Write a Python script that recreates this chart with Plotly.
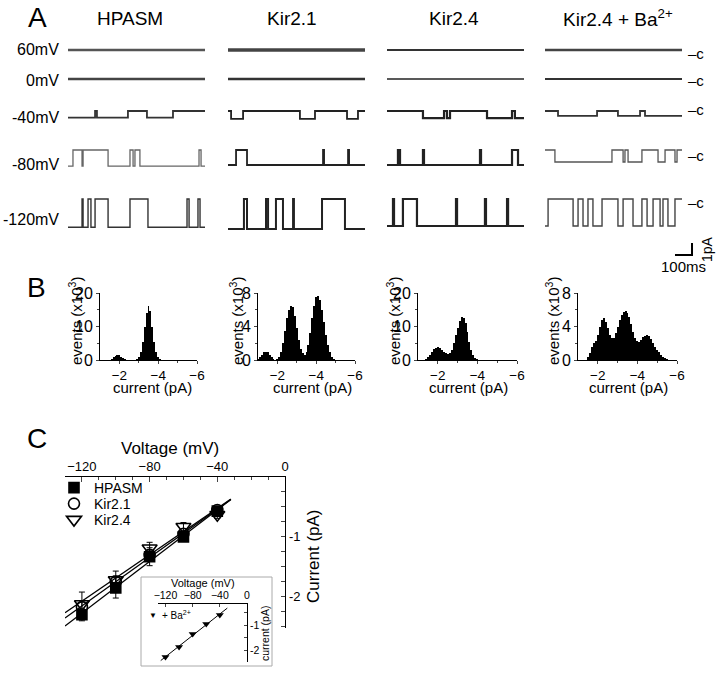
import numpy as np
import plotly.graph_objects as go

W, H = 721, 674
FONT = "Liberation Sans, Arial, sans-serif"

# ======================= DATA =======================
# ---- Panel A: single-channel recordings (idealised dwell transitions, ms) ----
COLUMNS = ["HPASM", "Kir2.1", "Kir2.4", "Kir2.4 + Ba<sup>2+</sup>"]
ROW_LABELS = ["60mV", "0mV", "-40mV", "-80mV", "-120mV"]
TRACE_MS = 800

# state alternates at each listed time; first-state 1 = open, 0 = closed
HPASM_60, HPASM_0 = [], []
HPASM_40 = [158, 169, 350, 461, 613]
HPASM_80 = [29, 82, 88, 234, 362, 380, 391, 420, 765, 777]
HPASM_120 = [82, 88, 117, 134, 158, 234, 362, 467, 695, 707, 759, 771]
KIR21_60, KIR21_0 = [], []
KIR21_40 = [18, 88, 420, 508, 695, 759]
KIR21_80 = [47, 111, 555, 561, 701, 707]
KIR21_120 = [93, 111, 222, 234, 280, 321, 380, 385, 549, 683]
KIR24_60, KIR24_0 = [], []
KIR24_40 = [210, 333, 350, 368, 584, 730, 747]
KIR24_80 = [64, 76, 210, 216, 543, 549, 730, 765]
KIR24_120 = [35, 41, 93, 175, 403, 409, 572, 578, 701, 707]
BA_60, BA_0 = [], []
BA_40 = [76, 304, 426, 555, 584]
BA_80 = [58, 391, 456, 467, 485, 566, 660, 701, 759, 771]
BA_120 = [18, 164, 193, 222, 251, 280, 333, 426, 456, 514, 566, 596, 631, 672, 689, 718, 759]

FIRST_OPEN_HPASM = [0, 0, 1, 1, 1]
FIRST_OPEN_KIR21 = [0, 0, 0, 1, 1]
FIRST_OPEN_KIR24 = [0, 0, 0, 1, 1]
FIRST_OPEN_BA = [0, 0, 0, 0, 1]

# unitary amplitudes (pA) per row
AMP_HPASM = [0, 0, 0.55, 1.35, 2.35]
AMP_KIR21 = [0, 0, 0.65, 1.25, 2.5]
AMP_KIR24 = [0, 0, 0.6, 1.25, 2.25]
AMP_BA = [0, 0, 0.4, 1.0, 2.25]

# ---- Panel B: amplitude histograms (events x10^3), bins -1.0 ... -5.5 pA ----
HIST_BINS = [round(-1.0 - 0.1 * i, 1) for i in range(46)]
HIST_HPASM = [0, 0, 0, 0, 0, 0.1, 0.4, 0.9, 1.3, 1.6, 1.4, 1.0, 0.5, 0.2, 0.05, 0, 0, 0,
              0.05, 0.2, 0.8, 2.5, 5.5, 10, 14, 16, 14.5, 10, 5.5, 2.5, 0.8, 0.2, 0.05,
              0, 0, 0, 0, 0, 0, 0, 0, 0, 0, 0, 0, 0]
HIST_KIR21 = [0.1, 0.3, 0.6, 0.9, 1.0, 0.9, 0.6, 0.3, 0.1, 0.05, 0.1, 0.3, 0.9, 2.0, 3.5,
              5.0, 6.0, 6.5, 6.3, 5.2, 3.8, 2.4, 1.3, 0.8, 0.6, 0.9, 1.8, 3.2, 5.0, 6.5,
              7.5, 7.7, 7.2, 6.0, 4.5, 3.0, 1.8, 0.9, 0.4, 0.1, 0, 0, 0, 0, 0, 0]
HIST_KIR24 = [0, 0, 0, 0, 0.2, 0.8, 1.6, 2.4, 3.2, 3.7, 3.8, 3.6, 3.1, 2.5, 2.0, 1.8, 2.0,
              3.0, 5.0, 7.5, 9.5, 11.5, 12.7, 12.5, 11.0, 8.5, 5.5, 3.0, 1.4, 0.6, 0.2,
              0, 0, 0, 0, 0, 0, 0, 0, 0, 0, 0, 0, 0, 0, 0]
HIST_BA = [0, 0, 0, 0, 0, 0.3, 0.8, 1.5, 2.0, 2.3, 3.0, 4.0, 4.8, 5.0, 4.5, 3.8, 3.0, 2.6,
           2.6, 3.2, 4.0, 4.8, 5.4, 5.7, 5.8, 5.6, 5.1, 4.3, 3.4, 2.6, 2.3, 2.2, 2.4, 2.7,
           2.9, 3.0, 2.9, 2.5, 2.0, 1.6, 1.2, 0.9, 0.6, 0.4, 0.2, 0.1]
HIST_YMAX = [20, 8, 20, 8]

# ---- Panel C: single-channel I-V ----
VOLTAGE = [-120, -100, -80, -60, -40]
I_HPASM = [-2.30, -1.85, -1.33, -1.00, -0.57]
E_HPASM = [0.10, 0.17, 0.15, 0.05, 0.04]
I_KIR21 = [-2.17, -1.75, -1.30, -0.95, -0.55]
E_KIR21 = [0.08, 0.10, 0.08, 0.05, 0.04]
I_KIR24 = [-2.12, -1.72, -1.19, -0.83, -0.63]
E_KIR24 = [0.20, 0.15, 0.10, 0.07, 0.06]
I_BA = [-2.28, -1.88, -1.36, -0.96, -0.60]

# ======================= LAYOUT HELPERS (window pixels -> paper) =======================
def dx(a, b):
    return [a / W, b / W]


def dy(top, bottom):
    return [1 - bottom / H, 1 - top / H]


def px(x):
    return x / W


def py(y):
    return 1 - y / H


fig = go.Figure()
layout = dict(
    template="none",
    width=W, height=H, margin=dict(l=0, r=0, t=0, b=0, pad=0, autoexpand=False),
    paper_bgcolor="white", plot_bgcolor="white",
    font=dict(family=FONT, color="black"),
    showlegend=True,
)
annotations = []


def ann(text, x, y, size, xanchor="center", angle=0, **kw):
    annotations.append(dict(text=text, x=px(x), y=py(y), xref="paper", yref="paper",
                            showarrow=False, xanchor=xanchor, yanchor="middle",
                            textangle=angle, font=dict(size=size, family=FONT, color="black"), **kw))


# ======================= PANEL A =======================
COL_X = [(68, 205), (228, 365), (387, 524), (545, 682)]
A_TOP, A_BOT, PX_PER_PA = 40, 240, 12.0
ROW_BASE_PX = [50, 79, 111, 150, 199]
ROW_BASE = [-(p - A_TOP) / PX_PER_PA for p in ROW_BASE_PX]
TRACES = [
    [HPASM_60, HPASM_0, HPASM_40, HPASM_80, HPASM_120],
    [KIR21_60, KIR21_0, KIR21_40, KIR21_80, KIR21_120],
    [KIR24_60, KIR24_0, KIR24_40, KIR24_80, KIR24_120],
    [BA_60, BA_0, BA_40, BA_80, BA_120],
]
FIRST = [FIRST_OPEN_HPASM, FIRST_OPEN_KIR21, FIRST_OPEN_KIR24, FIRST_OPEN_BA]
AMPS = [AMP_HPASM, AMP_KIR21, AMP_KIR24, AMP_BA]
LINE_W = [[2.6, 2.6, 1.8, 1.3, 1.4],
          [3.6, 2.4, 1.8, 1.8, 2.0],
          [2.0, 1.3, 2.2, 2.2, 2.2],
          [2.6, 2.0, 1.8, 1.3, 1.4]]
LINE_C = [["#555", "#444", "#333", "#666", "#333"],
          ["#444", "#333", "#222", "#222", "#222"],
          ["#333", "#222", "#222", "#222", "#222"],
          ["#444", "#333", "#333", "#555", "#444"]]

for c in range(4):
    ax = "" if c == 0 else str(c + 1)
    for r in range(5):
        t = TRACES[c][r]
        state = FIRST[c][r]
        xs, ys = [0], []
        for tt in t:
            ys.append(ROW_BASE[r] - AMPS[c][r] * state)
            xs.append(tt)
            state = 1 - state
        ys.append(ROW_BASE[r] - AMPS[c][r] * state)
        xs.append(TRACE_MS)
        ys.append(ys[-1])
        fig.add_trace(go.Scatter(x=xs, y=ys, mode="lines", line_shape="hv",
                                 line=dict(color=LINE_C[c][r], width=LINE_W[c][r]),
                                 xaxis="x" + ax, yaxis="y" + ax, showlegend=False,
                                 hoverinfo="skip"))
    layout["xaxis" + ax] = dict(domain=dx(*COL_X[c]), range=[0, TRACE_MS], visible=False,
                                anchor="y" + ax)
    layout["yaxis" + ax] = dict(domain=dy(A_TOP, A_BOT),
                                range=[-(A_BOT - A_TOP) / PX_PER_PA, 0], visible=False,
                                anchor="x" + ax)

# scale bar (100 ms, 1 pA) on its own axes
ms_per_px = TRACE_MS / (COL_X[3][1] - COL_X[3][0])
sb_x0, sb_x1, sb_y0, sb_y1 = 673, 694, 241, 257
fig.add_trace(go.Scatter(x=[0, 100, 100], y=[-1, -1, 0], mode="lines",
                         line=dict(color="black", width=2), xaxis="x11", yaxis="y11",
                         showlegend=False, hoverinfo="skip"))
layout["xaxis11"] = dict(domain=dx(sb_x0, sb_x1),
                         range=[-(675 - sb_x0) * ms_per_px, 100 + (sb_x1 - 692) * ms_per_px],
                         visible=False, anchor="y11")
layout["yaxis11"] = dict(domain=dy(sb_y0, sb_y1),
                         range=[-1 - (sb_y1 - 255) / PX_PER_PA, (243 - sb_y0) / PX_PER_PA],
                         visible=False, anchor="x11")
ann("100ms", 683, 266, 15)
ann("1pA", 707, 249, 14, angle=-90)

ann("A", 37, 17, 28)
for c, (cx, title) in enumerate(zip([130, 292, 454, 618], COLUMNS)):
    ann(title, cx, 18, 19)
for lab, yy in zip(ROW_LABELS, [49, 80, 117, 165, 220]):
    ann(lab, 61, yy, 16, xanchor="right")
for yy in [53, 81, 110, 155, 202]:
    ann("–c", 686, yy, 15, xanchor="left")

# ======================= PANEL B =======================
HIST_X = [(100, 197), (258, 355), (418, 517), (578, 677)]
HISTS = [HIST_HPASM, HIST_KIR21, HIST_KIR24, HIST_BA]
for i in range(4):
    n = str(5 + i)
    fig.add_trace(go.Bar(x=HIST_BINS, y=HISTS[i], width=0.1, marker_color="black",
                         marker_line_width=0, xaxis="x" + n, yaxis="y" + n,
                         showlegend=False, hoverinfo="skip"))
    ymax = HIST_YMAX[i]
    layout["xaxis" + n] = dict(domain=dx(*HIST_X[i]), range=[-1.0, -6.0], anchor="y" + n,
                               showline=True, linecolor="black", linewidth=1,
                               ticks="outside", ticklen=3, tickvals=[-2, -4, -6],
                               tickfont=dict(size=13.5), showgrid=False, zeroline=False,
                               ticklabelstandoff=0,
                               minor=dict(tickvals=[-3, -5], ticks="outside", ticklen=2))
    layout["yaxis" + n] = dict(domain=dy(293, 360), range=[0, ymax], anchor="x" + n,
                               showline=True, linecolor="black", linewidth=1,
                               ticks="outside", ticklen=3,
                               tickvals=[0, ymax / 2, ymax], tickfont=dict(size=16),
                               showgrid=False, zeroline=False, ticklabelstandoff=0,
                               minor=dict(tickvals=[ymax / 4, 3 * ymax / 4], ticks="outside",
                                          ticklen=2))
ann("B", 36, 287, 28)
for cx in [152, 312, 468, 628]:
    ann("current (pA)", cx, 387, 15)
for cx in [75, 236, 393, 552]:
    ann("events (x10<sup>3</sup>)", cx, 321, 15, angle=-90)

# ======================= PANEL C =======================
series = [("HPASM", I_HPASM, E_HPASM, "square", 10, "legend", 488),
          ("Kir2.1", I_KIR21, E_KIR21, "circle-open", 11, "legend2", 504),
          ("Kir2.4", I_KIR24, E_KIR24, "triangle-down-open", 13, "legend3", 520)]
for name, cur, err, sym, sz, lg, ly in series:
    slope, icpt = np.polyfit(VOLTAGE, cur, 1)
    vfit = np.array([-130, -32])
    fig.add_trace(go.Scatter(x=vfit, y=slope * vfit + icpt, mode="lines",
                             line=dict(color="black", width=1.3), xaxis="x9", yaxis="y9",
                             showlegend=False, hoverinfo="skip"))
for name, cur, err, sym, sz, lg, ly in series:
    fig.add_trace(go.Scatter(x=VOLTAGE, y=cur, mode="markers", name=name, legend=lg,
                             marker=dict(symbol=sym, size=sz, color="black",
                                         line=dict(color="black", width=1.6)),
                             error_y=dict(type="data", array=err, color="black",
                                          thickness=1, width=3),
                             xaxis="x9", yaxis="y9", cliponaxis=False))
    layout[lg] = dict(x=px(54), y=py(ly), xanchor="left", yanchor="middle",
                      font=dict(size=14, family=FONT, color="black"),
                      bgcolor="rgba(0,0,0,0)", itemwidth=30, borderwidth=0)

layout["xaxis9"] = dict(domain=dx(65, 285), range=[-130, 0], side="top", anchor="y9",
                        showline=True, linecolor="black", linewidth=1.3, ticks="inside",
                        ticklen=5, tickvals=[-120, -80, -40, 0], tickfont=dict(size=13),
                        showgrid=False, zeroline=False,
                        minor=dict(dtick=10, tick0=0, ticks="inside", ticklen=3))
layout["yaxis9"] = dict(domain=dy(477, 628), range=[-2.52, 0], side="right", anchor="x9",
                        showline=True, linecolor="black", linewidth=1.3, ticks="inside",
                        ticklen=4, tickvals=[-1, -2], ticktext=["-1", "-2"],
                        tickfont=dict(size=13), showgrid=False, zeroline=False,
                        minor=dict(tickvals=[-2.5, -2.25, -1.75, -1.5, -1.25, -0.75, -0.5,
                                             -0.25], ticks="inside", ticklen=4))
ann("C", 37, 438, 28)
ann("Voltage (mV)", 170, 448, 17)
ann("Current (pA)", 313, 556, 17, angle=-90)

# ---- inset: Kir2.4 + Ba2+ ----
slope, icpt = np.polyfit(VOLTAGE, I_BA, 1)
vfit = np.array([-127, -29])
fig.add_trace(go.Scatter(x=vfit, y=slope * vfit + icpt, mode="lines",
                         line=dict(color="black", width=1), xaxis="x10", yaxis="y10",
                         showlegend=False, hoverinfo="skip"))
fig.add_trace(go.Scatter(x=VOLTAGE, y=I_BA, mode="markers", name="+ Ba2+",
                         marker=dict(symbol="triangle-down", size=7, color="black"),
                         xaxis="x10", yaxis="y10", showlegend=False, cliponaxis=False))
layout["xaxis10"] = dict(domain=dx(158, 247), range=[-131, 0], side="top", anchor="y10",
                         showline=True, linecolor="black", linewidth=1, ticks="inside",
                         ticklen=3, tickvals=[-120, -80, -40, 0], tickfont=dict(size=10.5),
                         showgrid=False, zeroline=False, ticklabelstandoff=0)
layout["yaxis10"] = dict(domain=dy(604, 662), range=[-2.48, -0.16], side="right",
                         anchor="x10", showline=True, linecolor="black", linewidth=1,
                         ticks="inside", ticklen=3, tickvals=[-1, -2], ticktext=["-1", "-2"],
                         tickfont=dict(size=10.5), showgrid=False, zeroline=False,
                         ticklabelstandoff=0,
                         minor=dict(tickvals=[-2.5, -1.5, -0.5], ticks="inside", ticklen=3))
ann("Voltage (mV)", 203, 583, 11)
ann("current (pA)", 265, 634, 10.5, angle=-90)
ann("▼", 153, 615, 8)
ann("+ Ba<sup>2+</sup>", 160, 615, 10, xanchor="left")

layout["annotations"] = annotations
layout["shapes"] = [dict(type="rect", xref="paper", yref="paper",
                         x0=px(141), x1=px(272), y0=py(666), y1=py(577),
                         line=dict(color="#aaaaaa", width=1))]
layout["bargap"] = 0
fig.update_layout(**layout)
fig.write_html("out.html", config={"displayModeBar": False, "staticPlot": True},
               post_script="document.body.style.margin='0';")
